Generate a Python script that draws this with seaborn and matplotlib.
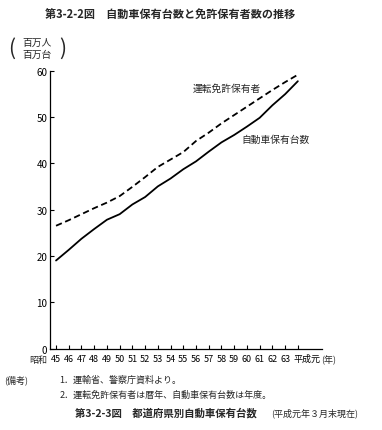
import matplotlib
matplotlib.use("Agg")
import matplotlib.pyplot as plt
import matplotlib.transforms as mtrans
import pandas as pd
import seaborn as sea

# data (millions)
years = ["45", "46", "47", "48", "49", "50", "51", "52", "53", "54",
         "55", "56", "57", "58", "59", "60", "61", "62", "63", "平成元"]
licence_holders = [26.5, 27.7, 29.0, 30.3, 31.5, 32.9, 34.9, 37.0, 39.2, 40.8,
                   42.4, 44.8, 46.6, 48.6, 50.4, 52.2, 54.0, 55.8, 57.5, 59.1]
vehicles = [19.0, 21.3, 23.7, 25.8, 27.8, 29.0, 31.1, 32.7, 35.0, 36.7,
            38.7, 40.4, 42.5, 44.5, 46.1, 47.9, 49.8, 52.5, 54.9, 57.7]
y_ticks = [0, 10, 20, 30, 40, 50, 60]

sea.set_style("ticks")
plt.rcParams['font.family'] = ['Noto Sans CJK JP', 'DejaVu Sans']

df = pd.DataFrame({"idx": range(len(years)),
                   "licence": licence_holders,
                   "vehicles": vehicles})

fig = plt.figure(figsize=(3.82, 4.31), dpi=100)
ax = fig.add_axes([0.131, 0.189, 0.712, 0.645])

sea.lineplot(data=df, x="idx", y="vehicles", ax=ax, color="black", linewidth=1.3)
sea.lineplot(data=df, x="idx", y="licence", ax=ax, color="black", linewidth=1.3,
             linestyle=(0, (3.5, 2)))

ax.set_xlim(-0.47, 20.9)
ax.set_ylim(0, 60)
ax.set_xticks(range(len(years)))
ax.set_xticklabels(years, fontsize=6.5)
ax.set_yticks(y_ticks)
ax.set_yticklabels([str(v) for v in y_ticks], fontsize=7)
ax.tick_params(direction="in", length=3, width=0.8, pad=2, colors="black")
ax.tick_params(axis="x", pad=4)
ax.set_xlabel("")
ax.set_ylabel("")
for s in ["top", "right"]:
    ax.spines[s].set_visible(False)
for s in ["left", "bottom"]:
    ax.spines[s].set_linewidth(0.9)
    ax.spines[s].set_color("black")

# last label (平成元) sits to the right of its tick so it clears "63"
last = ax.get_xticklabels()[-1]
last.set_horizontalalignment("left")
last.set_transform(last.get_transform() +
                   mtrans.ScaledTranslation(-4 / 100, 0, fig.dpi_scale_trans))

ax.text(10.7, 56.3, "運転免許保有者", fontsize=7, ha="left", va="center")
ax.text(14.6, 45.3, "自動車保有台数", fontsize=7, ha="left", va="center")

# titles, unit and notes
fig.text(0.118, 0.965, "第3-2-2図　自動車保有台数と免許保有者数の推移",
         fontsize=8, fontweight="bold", ha="left", va="center")
fig.text(0.097, 0.886, "百万人\n百万台", fontsize=7, ha="center", va="center",
         linespacing=1.2)
fig.text(0.03, 0.886, "(", fontsize=15, ha="center", va="center")
fig.text(0.163, 0.886, ")", fontsize=15, ha="center", va="center")
fig.text(0.123, 0.164, "昭和", fontsize=6.5, ha="right", va="center")
fig.text(0.84, 0.164, "(年)", fontsize=6.5, ha="left", va="center")
fig.text(0.01, 0.117, "(備考)", fontsize=6.5, ha="left", va="center")
fig.text(0.155, 0.117, "1．運輸省、警察庁資料より。", fontsize=6.5, ha="left", va="center")
fig.text(0.155, 0.082, "2．運転免許保有者は暦年、自動車保有台数は年度。",
         fontsize=6.5, ha="left", va="center")
fig.text(0.197, 0.042, "第3-2-3図　都道府県別自動車保有台数",
         fontsize=7.5, fontweight="bold", ha="left", va="center")
fig.text(0.71, 0.042, "(平成元年３月末現在)", fontsize=6.5, ha="left", va="center")

plt.savefig("out.png", dpi=100)
